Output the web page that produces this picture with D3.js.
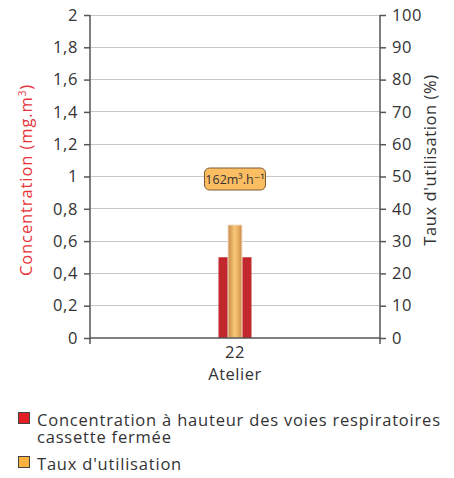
<!DOCTYPE html>
<html><head><meta charset="utf-8">
<script src="https://cdn.jsdelivr.net/npm/d3@7"></script>
<style>
body{margin:0;background:#fff;}
text{font-family:"Open Sans","DejaVu Sans",sans-serif;}
</style></head>
<body><svg id="c" width="454" height="478"></svg>
<script>
const categories = ["22"];
const concentration = [0.5];
const usage = [35];
const leftTicks = [0,0.2,0.4,0.6,0.8,1,1.2,1.4,1.6,1.8,2];
const rightTicks = [0,10,20,30,40,50,60,70,80,90,100];
const flowLabel = ["162m³.h⁻¹"];
const xTitle = "Atelier";
const legendLabels = [["Concentration à hauteur des voies respiratoires","cassette fermée"],["Taux d'utilisation"]];

const svg = d3.select("#c");
const L = 90, R = 380, T = 15, B = 338;
const x = d3.scaleBand().domain(categories).range([L, R]);
const yL = d3.scaleLinear().domain([0,2]).range([B, T]);
const yR = d3.scaleLinear().domain([0,100]).range([B, T]);
const fmt = d => String(d).replace(".", ",");

const defs = svg.append("defs");
const g = defs.append("linearGradient").attr("id","og").attr("x1","0").attr("x2","1");
g.append("stop").attr("offset","0%").attr("stop-color","#c68a45");
g.append("stop").attr("offset","45%").attr("stop-color","#f7c477");
g.append("stop").attr("offset","60%").attr("stop-color","#f3bd6c");
g.append("stop").attr("offset","100%").attr("stop-color","#c98c48");

svg.append("g").selectAll("line").data(leftTicks.slice(1)).join("line")
  .attr("x1", L).attr("x2", R).attr("y1", d => yL(d)).attr("y2", d => yL(d))
  .attr("stroke", "#c8c8c8").attr("stroke-width", 1).attr("shape-rendering","crispEdges");

const cx = c => x(c) + x.bandwidth()/2;
svg.append("g").selectAll("rect").data(categories).join("rect")
  .attr("x", c => cx(c) - 16.5).attr("width", 33)
  .attr("y", (c,i) => yL(concentration[i])).attr("height", (c,i) => B - yL(concentration[i]))
  .attr("fill", "#c1272d");
svg.append("g").selectAll("rect").data(categories).join("rect")
  .attr("x", c => cx(c) - 7).attr("width", 14)
  .attr("y", (c,i) => yR(usage[i])).attr("height", (c,i) => B - yR(usage[i]))
  .attr("fill", "url(#og)").attr("stroke", "#f4e3d0").attr("stroke-width", 1);

const la = svg.append("g").attr("transform", `translate(${L},0)`)
  .call(d3.axisLeft(yL).tickValues(leftTicks).tickFormat(fmt).tickSize(6).tickPadding(6));
const ra = svg.append("g").attr("transform", `translate(${R},0)`)
  .call(d3.axisRight(yR).tickValues(rightTicks).tickSize(6).tickPadding(6));
[la, ra].forEach(a => {
  a.select(".domain").remove();
  a.selectAll("line").attr("stroke", "#555").attr("stroke-width", 1.5);
  a.selectAll("text").attr("font-size", 16.5).attr("fill", "#333").attr("letter-spacing", 0.6);
});
svg.append("line").attr("x1", L).attr("x2", L).attr("y1", T).attr("y2", B + 6).attr("stroke", "#555").attr("stroke-width", 1.5);
svg.append("line").attr("x1", R).attr("x2", R).attr("y1", T).attr("y2", B + 6).attr("stroke", "#555").attr("stroke-width", 1.5);
svg.append("line").attr("x1", L).attr("x2", R).attr("y1", B).attr("y2", B).attr("stroke", "#555").attr("stroke-width", 1.5);

svg.append("g").selectAll("text").data(categories).join("text")
  .attr("x", c => cx(c)).attr("y", 358).attr("text-anchor","middle")
  .attr("font-size", 16.5).attr("fill", "#333").attr("letter-spacing", 0.5).text(c => c);
svg.append("text").attr("x", cx(categories[0])).attr("y", 380).attr("text-anchor","middle")
  .attr("font-size", 16.5).attr("fill", "#333").attr("letter-spacing", 0.5).text(xTitle);

const lt = svg.append("text").attr("transform", "translate(32,180) rotate(-90)")
  .attr("text-anchor","middle").attr("font-size", 16.5).attr("letter-spacing", 0.9).attr("fill", "#e8333a");
lt.append("tspan").text("Concentration (mg.m");
lt.append("tspan").attr("font-size", 10).attr("dy", -6).text("3");
lt.append("tspan").attr("dy", 6).text(")");
svg.append("text").attr("transform", "translate(436,160) rotate(-90)")
  .attr("text-anchor","middle").attr("font-size", 16.5).attr("letter-spacing", 0.6).attr("fill", "#333").text("Taux d'utilisation (%)");

const lg = svg.append("g").selectAll("g").data(categories).join("g");
lg.append("rect").attr("x", c => cx(c) - 30.5).attr("y", 168).attr("width", 61).attr("height", 22)
  .attr("rx", 5).attr("fill", "#fbbd62").attr("stroke", "#7a5a32").attr("stroke-width", 1);
lg.append("text").attr("x", c => cx(c)).attr("y", 184).attr("text-anchor","middle")
  .attr("font-size", 12.5).attr("fill", "#333").text((c,i) => flowLabel[i]);

const legColors = ["#e31e24", "#fbb040"];
const legY = [412, 456];
legendLabels.forEach((lines, i) => {
  svg.append("rect").attr("x", 18.5).attr("y", legY[i] + 0.5).attr("width", 11).attr("height", 11)
    .attr("fill", legColors[i]).attr("stroke", "#444").attr("stroke-width", 1);
  lines.forEach((t, j) => {
    svg.append("text").attr("x", 37).attr("y", legY[i] + 13.5 + j * 17).attr("font-size", 16.5)
      .attr("letter-spacing", 0.8).attr("fill", "#333").text(t);
  });
});
</script></body></html>
